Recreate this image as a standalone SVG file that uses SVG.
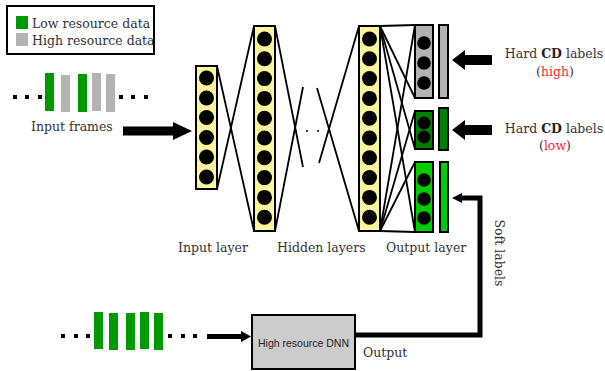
<svg xmlns="http://www.w3.org/2000/svg" width="605" height="371" viewBox="0 0 605 371">
  <style>
    .lbl { font-family: "DejaVu Serif", "Liberation Serif", serif; font-size: 12.5px; fill: #333333; }
    .red { fill: #ff2a2a; }
    .layer { fill: #fbf59c; stroke: #000; stroke-width: 2; }
    .neuron { fill: #000; }
    .wire { stroke: #000; stroke-width: 1.8; fill: none; }
    .frame-lo { fill: #009900; }
    .frame-hi { fill: #b3b3b3; }
    .dot { fill: #000; }
    .box { stroke: #000; stroke-width: 2; }
  </style>
  <defs>
    <marker id="headSmall" markerWidth="10" markerHeight="10" refX="0" refY="5" orient="auto" markerUnits="userSpaceOnUse">
      <path d="M0,0 L10,5 L0,10 Z" fill="#000"/>
    </marker>
  </defs>

  <rect width="605" height="371" fill="#fff"/>

  <!-- legend -->
  <g id="legend">
    <rect x="7" y="6" width="147" height="48" fill="#fff" stroke="#000" stroke-width="2"/>
    <rect x="16" y="16" width="12" height="13" class="frame-lo"/>
    <rect x="16" y="33" width="12" height="13" class="frame-hi"/>
    <text x="32" y="28" class="lbl">Low resource data</text>
    <text x="32" y="45" class="lbl">High resource data</text>
  </g>

  <!-- input frames -->
  <g id="input-frames">
    <rect x="13" y="95" width="4" height="4" class="dot"/>
    <rect x="25" y="95" width="4" height="4" class="dot"/>
    <rect x="38" y="95" width="4" height="4" class="dot"/>
    <rect x="45" y="73" width="9" height="38" class="frame-lo"/>
    <rect x="61" y="75" width="9" height="37" class="frame-hi"/>
    <rect x="78" y="74" width="9" height="38" class="frame-lo"/>
    <rect x="92" y="73" width="9" height="38" class="frame-hi"/>
    <rect x="106" y="74" width="9" height="38" class="frame-hi"/>
    <rect x="119" y="95" width="4" height="4" class="dot"/>
    <rect x="131" y="95" width="4" height="4" class="dot"/>
    <rect x="144" y="95" width="4" height="4" class="dot"/>
    <text x="31" y="131" class="lbl">Input frames</text>
  </g>

  <!-- input layer -->
  <g id="input-layer">
    <rect x="196" y="66" width="21" height="123" class="layer"/>
    <circle cx="206.5" cy="78" r="7.5" class="neuron"/>
    <circle cx="206.5" cy="98" r="7.5" class="neuron"/>
    <circle cx="206.5" cy="117.5" r="7.5" class="neuron"/>
    <circle cx="206.5" cy="137.5" r="7.5" class="neuron"/>
    <circle cx="206.5" cy="157" r="7.5" class="neuron"/>
    <circle cx="206.5" cy="177" r="7.5" class="neuron"/>
    <text x="178" y="252" class="lbl">Input layer</text>
  </g>

  <!-- hidden layer 1 -->
  <g id="hidden-layer-1">
    <rect x="254" y="26" width="21" height="205" class="layer"/>
    <circle cx="264.5" cy="39" r="7.5" class="neuron"/>
    <circle cx="264.5" cy="58.8" r="7.5" class="neuron"/>
    <circle cx="264.5" cy="78.6" r="7.5" class="neuron"/>
    <circle cx="264.5" cy="98.4" r="7.5" class="neuron"/>
    <circle cx="264.5" cy="118.2" r="7.5" class="neuron"/>
    <circle cx="264.5" cy="138" r="7.5" class="neuron"/>
    <circle cx="264.5" cy="157.8" r="7.5" class="neuron"/>
    <circle cx="264.5" cy="177.6" r="7.5" class="neuron"/>
    <circle cx="264.5" cy="197.4" r="7.5" class="neuron"/>
    <circle cx="264.5" cy="217.2" r="7.5" class="neuron"/>
  </g>

  <!-- hidden layer 2 -->
  <g id="hidden-layer-2">
    <rect x="359" y="26" width="21" height="205" class="layer"/>
    <circle cx="369.5" cy="39" r="7.5" class="neuron"/>
    <circle cx="369.5" cy="58.8" r="7.5" class="neuron"/>
    <circle cx="369.5" cy="78.6" r="7.5" class="neuron"/>
    <circle cx="369.5" cy="98.4" r="7.5" class="neuron"/>
    <circle cx="369.5" cy="118.2" r="7.5" class="neuron"/>
    <circle cx="369.5" cy="138" r="7.5" class="neuron"/>
    <circle cx="369.5" cy="157.8" r="7.5" class="neuron"/>
    <circle cx="369.5" cy="177.6" r="7.5" class="neuron"/>
    <circle cx="369.5" cy="197.4" r="7.5" class="neuron"/>
    <circle cx="369.5" cy="217.2" r="7.5" class="neuron"/>
    <text x="277" y="252" class="lbl">Hidden layers</text>
  </g>

  <!-- output heads -->
  <g id="output-high">
    <rect x="415" y="25" width="18" height="73" fill="#b3b3b3" class="box"/>
    <circle cx="424" cy="43" r="6.8" class="neuron"/>
    <circle cx="424" cy="63" r="6.8" class="neuron"/>
    <circle cx="424" cy="83" r="6.8" class="neuron"/>
    <rect x="439" y="25" width="9" height="73" fill="#b3b3b3" class="box"/>
  </g>
  <g id="output-low">
    <rect x="415" y="111" width="18" height="38" fill="#008000" class="box"/>
    <circle cx="424" cy="123" r="6.5" class="neuron"/>
    <circle cx="424" cy="137" r="6.5" class="neuron"/>
    <rect x="439" y="108" width="9" height="42" fill="#008000" class="box"/>
  </g>
  <g id="output-soft">
    <rect x="415" y="162" width="18" height="70" fill="#00cc00" class="box"/>
    <circle cx="424" cy="180" r="6.8" class="neuron"/>
    <circle cx="424" cy="199" r="6.8" class="neuron"/>
    <circle cx="424" cy="218" r="6.8" class="neuron"/>
    <rect x="440" y="162" width="8" height="70" fill="#00cc00" class="box"/>
    <text x="386" y="252" class="lbl">Output layer</text>
  </g>

  <!-- label texts -->
  <g id="hard-high">
    <text x="554" y="58" class="lbl" text-anchor="middle">Hard <tspan font-weight="bold" fill="#222">CD</tspan> labels</text>
    <text x="555" y="76" class="lbl" text-anchor="middle">(<tspan class="red">high</tspan>)</text>
  </g>
  <g id="hard-low">
    <text x="554" y="133" class="lbl" text-anchor="middle">Hard <tspan font-weight="bold" fill="#222">CD</tspan> labels</text>
    <text x="555" y="150" class="lbl" text-anchor="middle">(<tspan class="red">low</tspan>)</text>
  </g>
  <g id="soft-labels">
    <text transform="translate(495,253) rotate(90)" class="lbl" text-anchor="middle">Soft labels</text>
  </g>

  <!-- bottom: low resource frames and teacher network -->
  <g id="teacher-frames">
    <rect x="61" y="334" width="4" height="4" class="dot"/>
    <rect x="74" y="334" width="4" height="4" class="dot"/>
    <rect x="86" y="334" width="4" height="4" class="dot"/>
    <rect x="94" y="312" width="9" height="37" class="frame-lo"/>
    <rect x="109" y="313" width="9" height="37" class="frame-lo"/>
    <rect x="126" y="313" width="9" height="37" class="frame-lo"/>
    <rect x="140" y="312" width="9" height="37" class="frame-lo"/>
    <rect x="154" y="313" width="9" height="37" class="frame-lo"/>
    <rect x="168" y="334" width="4" height="4" class="dot"/>
    <rect x="181" y="334" width="4" height="4" class="dot"/>
    <rect x="193" y="334" width="4" height="4" class="dot"/>
  </g>
  <g id="teacher-dnn">
    <rect x="252" y="315" width="103" height="54" fill="#cccccc" class="box"/>
    <text x="303.5" y="347" font-family="Liberation Sans, Arial, sans-serif" font-size="10.5" fill="#222" text-anchor="middle">High resource DNN</text>
    <text x="363" y="357" class="lbl">Output</text>
  </g>

  <!-- connectors -->
  <g id="connectors">
    <!-- input layer to hidden layer 1 -->
    <line x1="217" y1="66" x2="254" y2="231" class="wire"/>
    <line x1="217" y1="189" x2="254" y2="26" class="wire"/>
    <!-- hidden layer 1 to gap -->
    <line x1="275" y1="26" x2="303" y2="167" class="wire"/>
    <line x1="275" y1="231" x2="303" y2="87" class="wire"/>
    <circle cx="296" cy="131" r="1" class="dot"/>
    <circle cx="307" cy="131" r="1" class="dot"/>
    <circle cx="318" cy="131" r="1" class="dot"/>
    <!-- gap to hidden layer 2 -->
    <line x1="317" y1="88" x2="359" y2="231" class="wire"/>
    <line x1="319" y1="163" x2="359" y2="26" class="wire"/>
    <!-- hidden layer 2 to output heads -->
    <line x1="380" y1="26" x2="415" y2="25" class="wire"/>
    <line x1="380" y1="26" x2="415" y2="98" class="wire"/>
    <line x1="380" y1="26" x2="415" y2="149" class="wire"/>
    <line x1="380" y1="26" x2="415" y2="232" class="wire"/>
    <line x1="380" y1="231" x2="415" y2="25" class="wire"/>
    <line x1="380" y1="231" x2="415" y2="111" class="wire"/>
    <line x1="380" y1="231" x2="415" y2="162" class="wire"/>
    <line x1="380" y1="231" x2="415" y2="232" class="wire"/>
    <!-- input frames into the input layer -->
    <path d="M123,126.5 H173 V122 L192,131 L173,140 V135.5 H123 Z" fill="#000"/>
    <!-- hard label arrows -->
    <path d="M492,55 H465 V50 L452,60 L465,70 V65 H492 Z" fill="#000"/>
    <path d="M492,125 H465 V120 L452,130 L465,140 V135 H492 Z" fill="#000"/>
    <!-- frames into teacher DNN -->
    <path d="M207,334 H241 V331 L251,336.5 L241,342 V339 H207 Z" fill="#000"/>
    <!-- teacher output to soft labels -->
    <path d="M355,335 H480 V198 H462" fill="none" stroke="#000" stroke-width="5" marker-end="url(#headSmall)"/>
  </g>
</svg>
